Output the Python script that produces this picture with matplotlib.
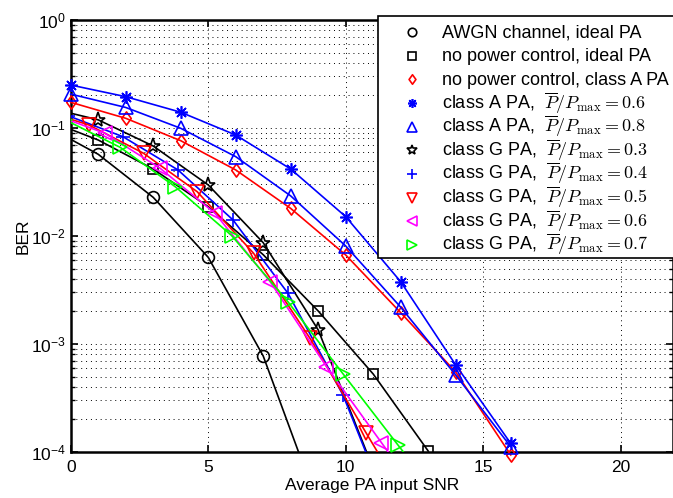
import numpy as np
import matplotlib
matplotlib.use("Agg")
import matplotlib.pyplot as plt
from matplotlib.lines import Line2D
from matplotlib.patches import Rectangle
from matplotlib.path import Path

# BER curves (x = average PA input SNR)
x_awgn = [-1, 1, 3, 5, 7, 9]
ber_awgn = [0.108, 0.0571, 0.0228, 0.00635, 7.74e-4, 3.2e-5]

x_npc_ideal = [-1, 1, 3, 5, 7, 9, 11, 13]
ber_npc_ideal = [0.122, 0.0774, 0.0417, 0.01867, 0.00671, 0.00202, 5.27e-4, 1.02e-4]

x_even = [0, 2, 4, 6, 8, 10, 12, 14, 16]
ber_npc_classA = [0.173, 0.123, 0.0763, 0.0409, 0.018, 0.00667, 0.00195, 5.5e-4, 9.4e-5]
ber_A06 = [0.25, 0.195, 0.140, 0.0861, 0.0417, 0.0151, 0.00377, 6.39e-4, 1.2e-4]
ber_A08 = [0.206, 0.155, 0.0994, 0.0543, 0.0235, 0.00808, 0.00219, 5.16e-4, 1.12e-4]

x_G03 = [-1, 1, 3, 5, 7, 9, 11]
ber_G03 = [0.158, 0.119, 0.0681, 0.0297, 0.00867, 0.00135, 7e-5]

x_G04 = [-0.1, 1.9, 3.9, 5.9, 7.9, 9.9, 11.9]
ber_G04 = [0.13, 0.0831, 0.0409, 0.0141, 0.00295, 3.37e-4, 1.8e-5]

x_G05 = [-1.35, 0.65, 2.65, 4.6, 6.65, 8.7, 10.75, 12.75]
ber_G05 = [0.154, 0.107, 0.0583, 0.0257, 0.00692, 0.00113, 1.49e-4, 2.1e-5]

x_G06 = [-0.75, 1.25, 3.25, 5.25, 7.25, 9.3, 11.3, 13.3]
ber_G06 = [0.137, 0.0893, 0.0424, 0.0162, 0.00378, 6.17e-4, 1.22e-4, 2.4e-5]

x_G07 = [-0.2, 1.8, 3.8, 5.85, 7.9, 9.9, 11.9, 13.9]
ber_G07 = [0.119, 0.0662, 0.0286, 0.0101, 0.00246, 5.3e-4, 1.16e-4, 2.6e-5]

ratio = r"$\overline{P}/P_{\max} = %s$"
labels = ["AWGN channel, ideal PA",
          "no power control, ideal PA",
          "no power control, class A PA",
          "class A PA,  " + ratio % "0.6",
          "class A PA,  " + ratio % "0.8",
          "class G PA,  " + ratio % "0.3",
          "class G PA,  " + ratio % "0.4",
          "class G PA,  " + ratio % "0.5",
          "class G PA,  " + ratio % "0.6",
          "class G PA,  " + ratio % "0.7"]

plt.rcParams['font.family'] = ['Liberation Sans', 'DejaVu Sans']
FS = 12.5
W, H = 673, 498

def fx(px):
    return px / W

def fy(py):
    return 1 - py / H

fig = plt.figure(figsize=(W / 100, H / 100), dpi=100)
ax = fig.add_axes([fx(70.7), fy(452), 1 - fx(70.7), (452 - 20) / H])

asterisk = (8, 2, 0)
tall_diamond = Path([(0, 1), (0.72, 0), (0, -1), (-0.72, 0), (0, 1)],
                    [Path.MOVETO, Path.LINETO, Path.LINETO, Path.LINETO,
                     Path.CLOSEPOLY])
series = [
    (x_awgn, ber_awgn, 'k', 'o', 8.5),
    (x_npc_ideal, ber_npc_ideal, 'k', 's', 7.5),
    (x_even, ber_npc_classA, 'r', tall_diamond, 9.5),
    (x_even, ber_A06, 'b', asterisk, 9),
    (x_even, ber_A08, 'b', '^', 9.5),
    (x_G03, ber_G03, 'k', '*', 11),
    (x_G04, ber_G04, 'b', '+', 10),
    (x_G05, ber_G05, 'r', 'v', 9.5),
    (x_G06, ber_G06, '#ff00ff', '<', 9.5),
    (x_G07, ber_G07, '#00ff00', '>', 9.5),
]

# the class A curves stay inside the axes, so their end markers can be drawn whole
unclipped = {2, 3, 4}
for i, (xs, ys, c, m, ms) in enumerate(series):
    ax.plot(xs, ys, color=c, lw=1.2, marker=m, ms=ms, mfc='none', mec=c,
            mew=1.2, clip_on=(i not in unclipped), zorder=3)

ax.set_yscale('log')
ax.set_xlim(0, 21.9)
ax.set_ylim(1e-4, 1)
ax.set_xticks([0, 5, 10, 15, 20])

grid_style = dict(color='k', linestyle=(0, (1, 4)), linewidth=0.7)
ax.grid(True, which='major', **grid_style)
ax.grid(True, which='minor', axis='y', **grid_style)

ax.tick_params(which='both', direction='in', top=True, right=True, labelsize=FS)
ax.tick_params(which='major', length=5, width=1.2)
ax.tick_params(which='minor', length=3, width=1.0)
ax.tick_params(axis='x', pad=6)
for s in ax.spines.values():
    s.set_linewidth(1.8)

ax.set_xlabel("Average PA input SNR", fontsize=FS, labelpad=2)
ax.set_ylabel("BER", fontsize=FS, labelpad=0)

# legend box drawn by hand so every row gets the same height
fig.add_artist(Rectangle((fx(378), fy(258)), fx(700) - fx(378), (258 - 16) / H,
                         transform=fig.transFigure, facecolor='white',
                         edgecolor='k', linewidth=1.2, zorder=5))
row0, row_step = 32.3, 23.6
for i, ((xs, ys, c, m, ms), lab) in enumerate(zip(series, labels)):
    yrow = row0 + i * row_step
    fig.add_artist(Line2D([fx(412)], [fy(yrow)], transform=fig.transFigure,
                          ls='none', marker=m, ms=ms * 0.72, mfc='none',
                          mec=c, mew=1.2, zorder=6))
    fig.text(fx(442), fy(yrow + 5.4), lab, fontsize=13, va='baseline',
             ha='left', math_fontfamily='cm', zorder=6)

fig.savefig("out.png", dpi=100)
